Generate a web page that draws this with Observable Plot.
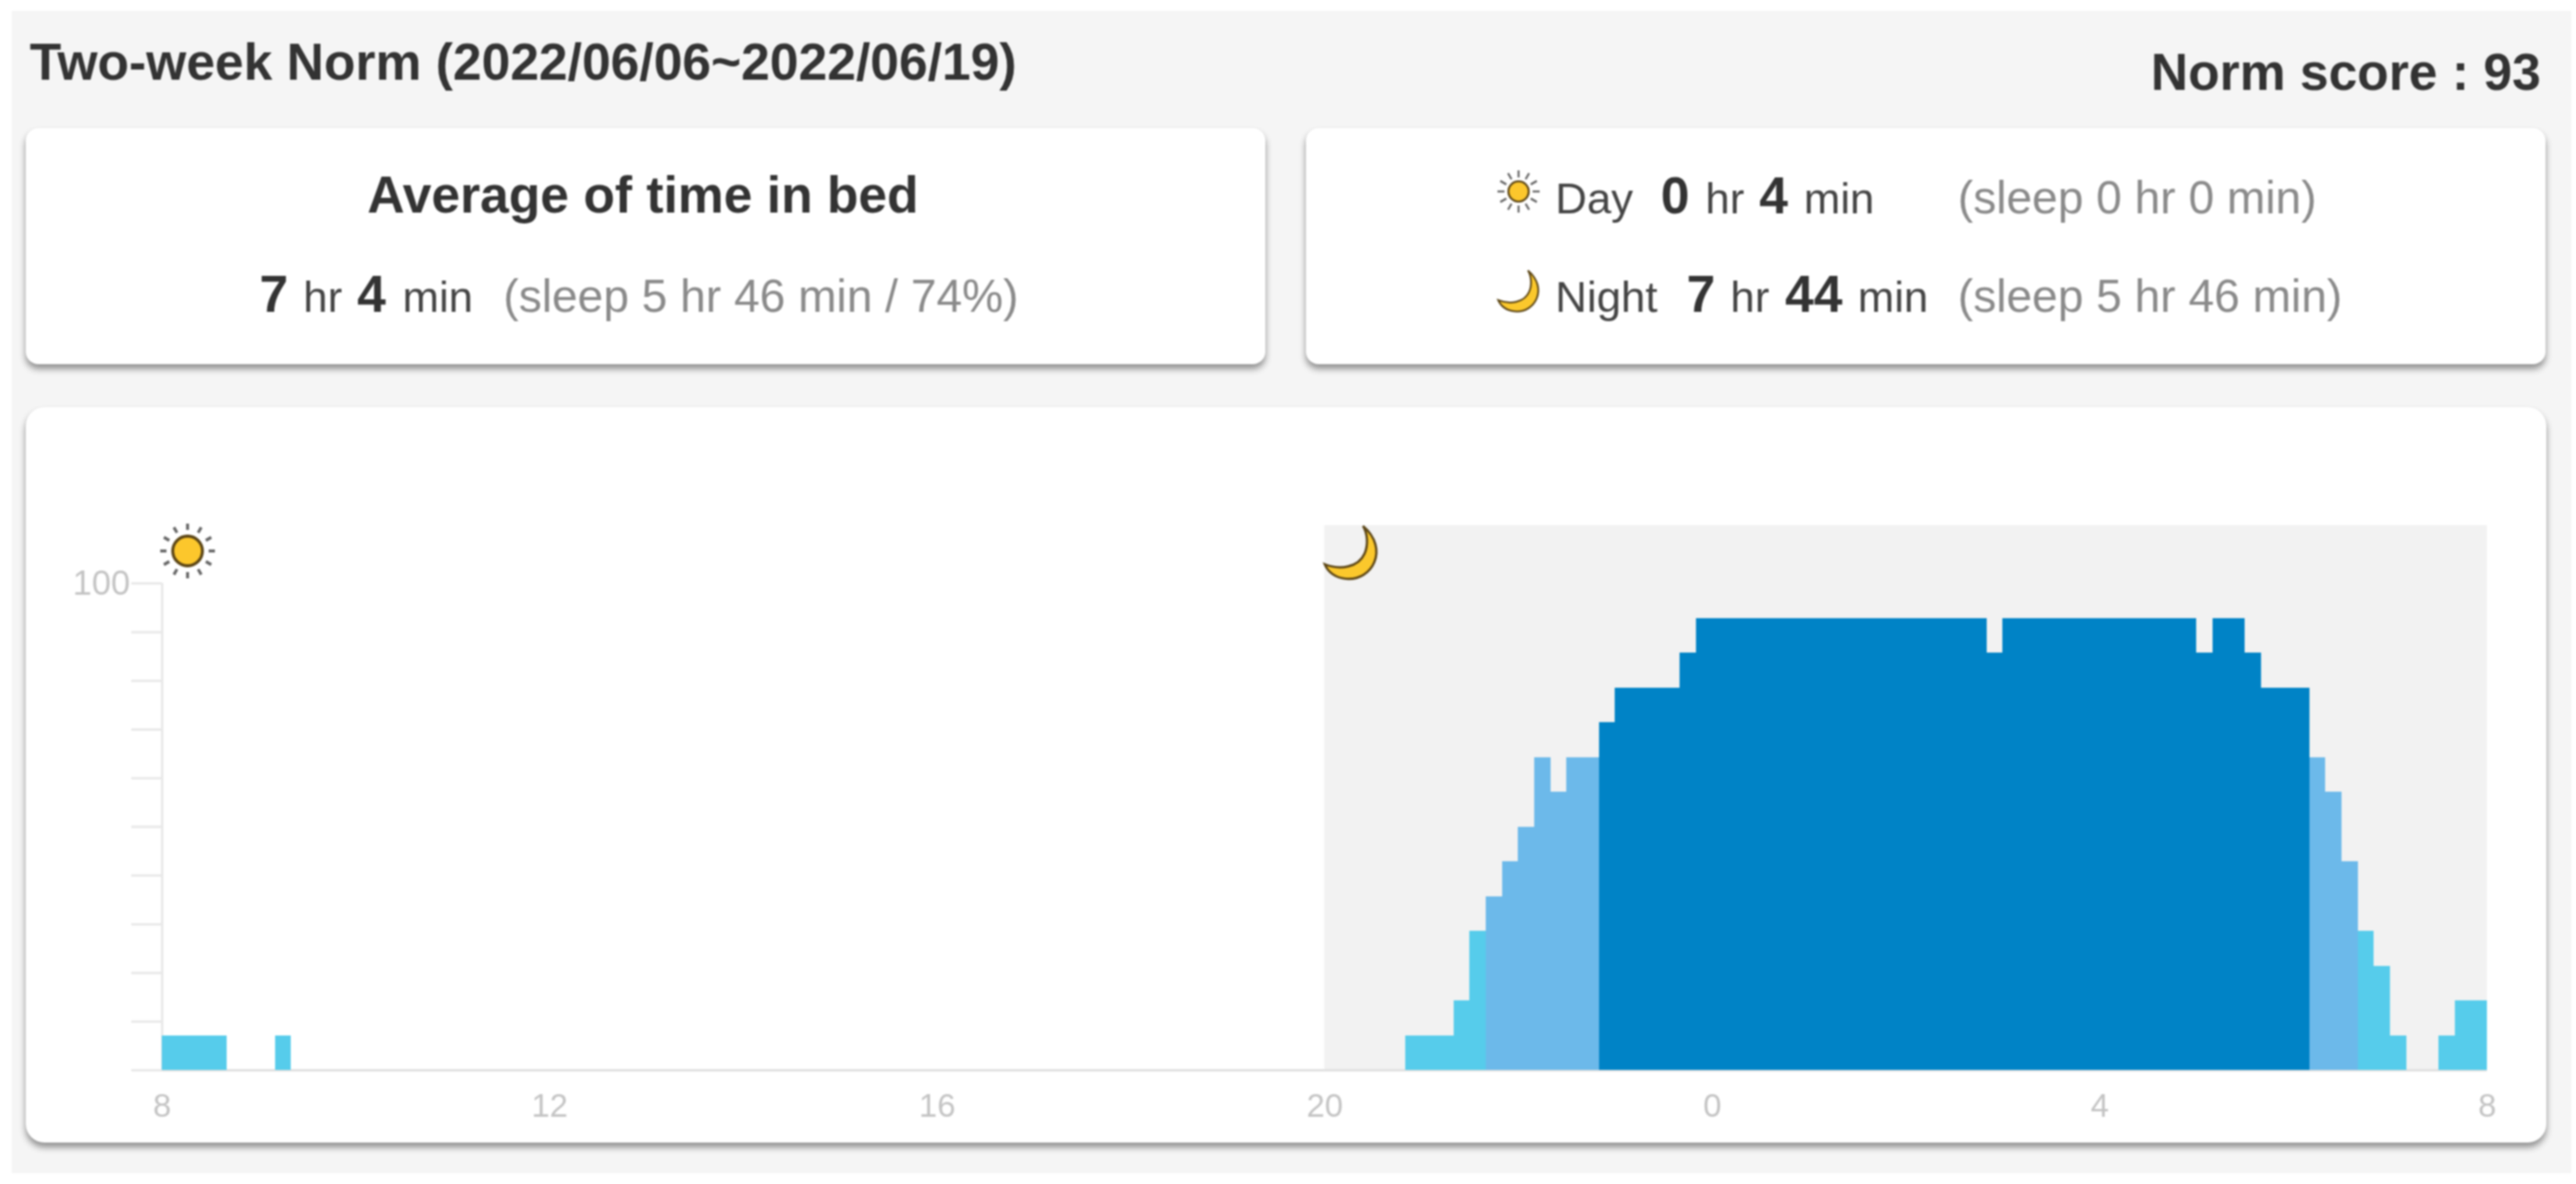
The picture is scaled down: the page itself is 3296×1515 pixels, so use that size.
<!DOCTYPE html>
<html>
<head>
<meta charset="utf-8">
<script src="https://cdn.jsdelivr.net/npm/d3@7"></script>
<script src="https://cdn.jsdelivr.net/npm/@observablehq/plot@0.6"></script>
<style>
html,body{margin:0;padding:0;background:#fff;}
#page{position:relative;width:3296px;height:1515px;overflow:hidden;font-family:"Liberation Sans",Arial,sans-serif;filter:blur(.8px);}
#panel{position:absolute;left:15px;top:14px;width:3275px;height:1487px;background:#f5f5f5;}
.card{position:absolute;background:#fff;border-radius:16px;box-shadow:0 6px 9px rgba(0,0,0,.42);}
#overlay{position:absolute;left:0;top:0;}
#chart{position:absolute;left:33px;top:523px;}
#chart svg{display:block;background:transparent;overflow:visible;}
</style>
</head>
<body>
<div id="page">
  <div id="panel"></div>
  <div class="card" style="left:33px;top:164px;width:1586px;height:302px"></div>
  <div class="card" style="left:1671px;top:164px;width:1586px;height:302px"></div>
  <div class="card" style="left:33px;top:521px;width:3225px;height:941px;border-radius:24px"></div>
  <div id="chart"></div>
  <svg id="overlay" width="3296" height="1515" xmlns="http://www.w3.org/2000/svg"></svg>
</div>
<script>
// Number of nights out of 14 in bed, per 10-minute bin
const totalDays = 14;
const dayCounts = [1,1,1,1,0,0,0,1];              // from 08:00, the rest of the day is empty
const nightCounts = [
  0,0,0,0,0,1,1,1,2,4,5,6,7,9,8,9,9,10,11,11,11,11,12,13,
  13,13,13,13,13,13,13,13,13,13,13,13,13,13,13,13,13,12,13,13,13,13,13,13,
  13,13,13,13,13,13,12,13,13,12,11,11,11,9,8,6,4,3,1,0,0,1,2,2
];
const dayStart = 8, nightStart = 20, axisEnd = 32, binHours = 1 / 6;
const xTicks = [8,12,16,20,24,28,32];
const yTicks = [0,10,20,30,40,50,60,70,80,90,100];
const levelLimits = [5,10];
const levelColors = ["#56CCEB","#6CB9EA","#0083C6"];

const bins = [
  ...dayCounts.map((c,i)=>({start:dayStart+i*binHours,count:c})),
  ...nightCounts.map((c,i)=>({start:nightStart+i*binHours,count:c}))
].filter(d=>d.count>0);
const tickColor = "#e8e8e8", labelColor = "#c4c4c4";

const plot = Plot.plot({
  width:3225, height:940,
  marginLeft:174, marginRight:76, marginTop:149, marginBottom:94,
  style:{background:"transparent",fontFamily:"'Liberation Sans',Arial,sans-serif"},
  x:{domain:[dayStart,axisEnd]},
  y:{domain:[0,111.9]},
  color:{type:"threshold",domain:levelLimits,range:levelColors},
  marks:[
    Plot.rect([{a:nightStart,b:axisEnd}],{x1:"a",x2:"b",y1:0,y2:111.9,fill:"#f2f2f2"}),
    Plot.ruleX([dayStart],{y1:0,y2:100,stroke:tickColor,strokeWidth:3}),
    Plot.axisY({ticks:yTicks,tickSize:39,stroke:tickColor,strokeWidth:3,color:labelColor,
      tickFormat:d=>d===100?"100":"",fontSize:44,tickPadding:2,label:null}),
    Plot.ruleY([0],{stroke:"#e0e0e0",strokeWidth:3}),
    Plot.rect(bins,{x1:"start",x2:d=>d.start+binHours,y1:0,y2:d=>d.count/totalDays*100,
      fill:"count",shapeRendering:"crispEdges"}),
    Plot.axisX({ticks:xTicks,tickSize:0,tickPadding:30,color:labelColor,fontSize:42,
      tickFormat:d=>String(d%24),label:null})
  ]
});
document.getElementById("chart").appendChild(plot);

// Heading and summary text
const ink="#333", soft="#444", faint="#8a8a8a";
const big=66, unit=56, side=59;
const texts=[
  ["Two-week Norm (2022/06/06~2022/06/19)",38,102,big,700,ink],
  ["Norm score : 93",2752,115,big,700,ink],
  ["Average of time in bed",470,272,big,700,ink],
  ["7",332,399,big,700,ink],["hr",388,399,unit,400,soft],["4",457,399,big,700,ink],["min",515,399,unit,400,soft],
  ["(sleep 5 hr 46 min / 74%)",644,399,side,400,faint],
  ["Day",1990,273,unit,400,soft],["0",2125,273,big,700,ink],["hr",2182,273,unit,400,soft],["4",2251,273,big,700,ink],["min",2308,273,unit,400,soft],
  ["(sleep 0 hr 0 min)",2505,273,side,400,faint],
  ["Night",1990,399,unit,400,soft],["7",2158,399,big,700,ink],["hr",2214,399,unit,400,soft],["44",2284,399,big,700,ink],["min",2377,399,unit,400,soft],
  ["(sleep 5 hr 46 min)",2505,399,side,400,faint]
];
const ov=d3.select("#overlay");
for(const [t,x,y,s,w,c] of texts){
  ov.append("text").attr("x",x).attr("y",y).attr("font-size",s).attr("font-weight",w)
    .attr("fill",c).attr("font-family","'Liberation Sans',Arial,sans-serif").style("white-space","pre").text(t);
}
function sun(cx,cy,r,r1,r2){
  const g=ov.append("g").attr("transform",`translate(${cx},${cy})`);
  d3.range(12).forEach(i=>{
    const a=i*Math.PI/6;
    g.append("line").attr("x1",r1*Math.cos(a)).attr("y1",r1*Math.sin(a))
      .attr("x2",r2*Math.cos(a)).attr("y2",r2*Math.sin(a))
      .attr("stroke","#666").attr("stroke-width",r/5);
  });
  g.append("circle").attr("r",r).attr("fill","#FCC72C").attr("stroke","#5b4515").attr("stroke-width",r/5);
}
function moon(x,y,k){
  ov.append("path").attr("transform",`translate(${x},${y}) scale(${k})`)
    .attr("d","M50 0C85 30 62 72 28 69C14 68 4 60 0 50C20 58 44 54 52 36C57 25 56 10 50 0Z")
    .attr("fill","#FBC82C").attr("stroke","#5b4515").attr("stroke-width",3);
}
sun(240,705,19,27,35);
moon(1695,673,.98);
sun(1943,245,13,18,27);
moon(1917,346,.76);
</script>
</body>
</html>
